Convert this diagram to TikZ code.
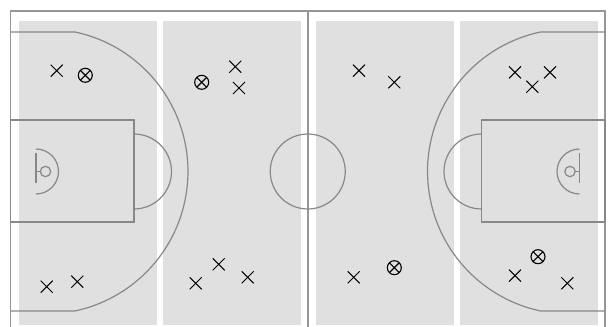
\documentclass[tikz,border=0pt]{standalone}
\usetikzlibrary{shapes.misc}

\definecolor{panelgray}{RGB}{224,224,224}
\definecolor{linegray}{RGB}{136,136,136}
\definecolor{bordergray}{RGB}{150,150,150}

\tikzset{
  court/.style={draw=linegray, line width=1.2pt},
  border/.style={draw=bordergray, line width=1.5pt},
  panel/.style={fill=panelgray, draw=none},
  player/.style={cross out, draw=black, line width=1pt, minimum size=11pt, inner sep=0pt},
  ballplayer/.style={circle, draw=black, line width=1.1pt, minimum size=14pt, inner sep=0pt,
    path picture={\draw[line width=1.1pt] (path picture bounding box.south west) -- (path picture bounding box.north east)
      (path picture bounding box.north west) -- (path picture bounding box.south east);}}
}

\begin{document}
\begin{tikzpicture}[x=1pt, y=1pt]

\clip (0,0) rectangle (614,327);
\fill[white] (0,0) rectangle (614,327);

% zones
\fill[panel] (19,2) rectangle (157,306);
\fill[panel] (163,2) rectangle (301,306);
\fill[panel] (316,2) rectangle (454,306);
\fill[panel] (460,2) rectangle (598,306);

% outline and half line
\draw[border] (10.5,-5) -- (10.5,316) -- (605,316) -- (605,-5);
\draw[border] (307.75,316) -- (307.75,-5);
\draw[court] (307.75,155.5) circle[radius=37.5pt];

% both halves
\foreach \side/\flip in {0/1, 615.5/-1}{
\begin{scope}[xshift=\side pt, xscale=\flip]
\draw[court] (10.5,207) rectangle (134,105);
\draw[court] (134,193) arc[start angle=90, end angle=-90, radius=37.5pt];
\draw[court] (10.5,295) -- (75,295) arc[start angle=78, end angle=-78, radius=142.6pt] -- (10.5,16);
\draw[court] (36,178) arc[start angle=90, end angle=-90, radius=22.5pt];
\draw[court] (36,174) -- (36,144);
\draw[court] (36,155.5) -- (40.3,155.5);
\draw[court] (45.5,155.5) circle[radius=5.2pt];
\end{scope}
}

% zone A
\node[player] (a1) at (56.7,256.3) {};
\node[ballplayer] (a2) at (85.3,251.7) {};
\node[player] (a3) at (46.7,40.3) {};
\node[player] (a4) at (77.3,45.3) {};

% zone B
\node[ballplayer] (b1) at (201.7,244.7) {};
\node[player] (b2) at (235.3,260.3) {};
\node[player] (b3) at (239,239) {};
\node[player] (b4) at (195.7,43.7) {};
\node[player] (b5) at (218.7,62.7) {};
\node[player] (b6) at (247.7,49.7) {};

% zone C
\node[player] (c1) at (359,256.3) {};
\node[player] (c2) at (394.3,244.7) {};
\node[player] (c3) at (353.7,49.7) {};
\node[ballplayer] (c4) at (394.3,59.3) {};

% zone D
\node[player] (d1) at (515,254.7) {};
\node[player] (d2) at (532.3,240.3) {};
\node[player] (d3) at (550,254.7) {};
\node[ballplayer] (d4) at (538,70.3) {};
\node[player] (d5) at (515,51.3) {};
\node[player] (d6) at (567.3,43.7) {};

\end{tikzpicture}
\end{document}
